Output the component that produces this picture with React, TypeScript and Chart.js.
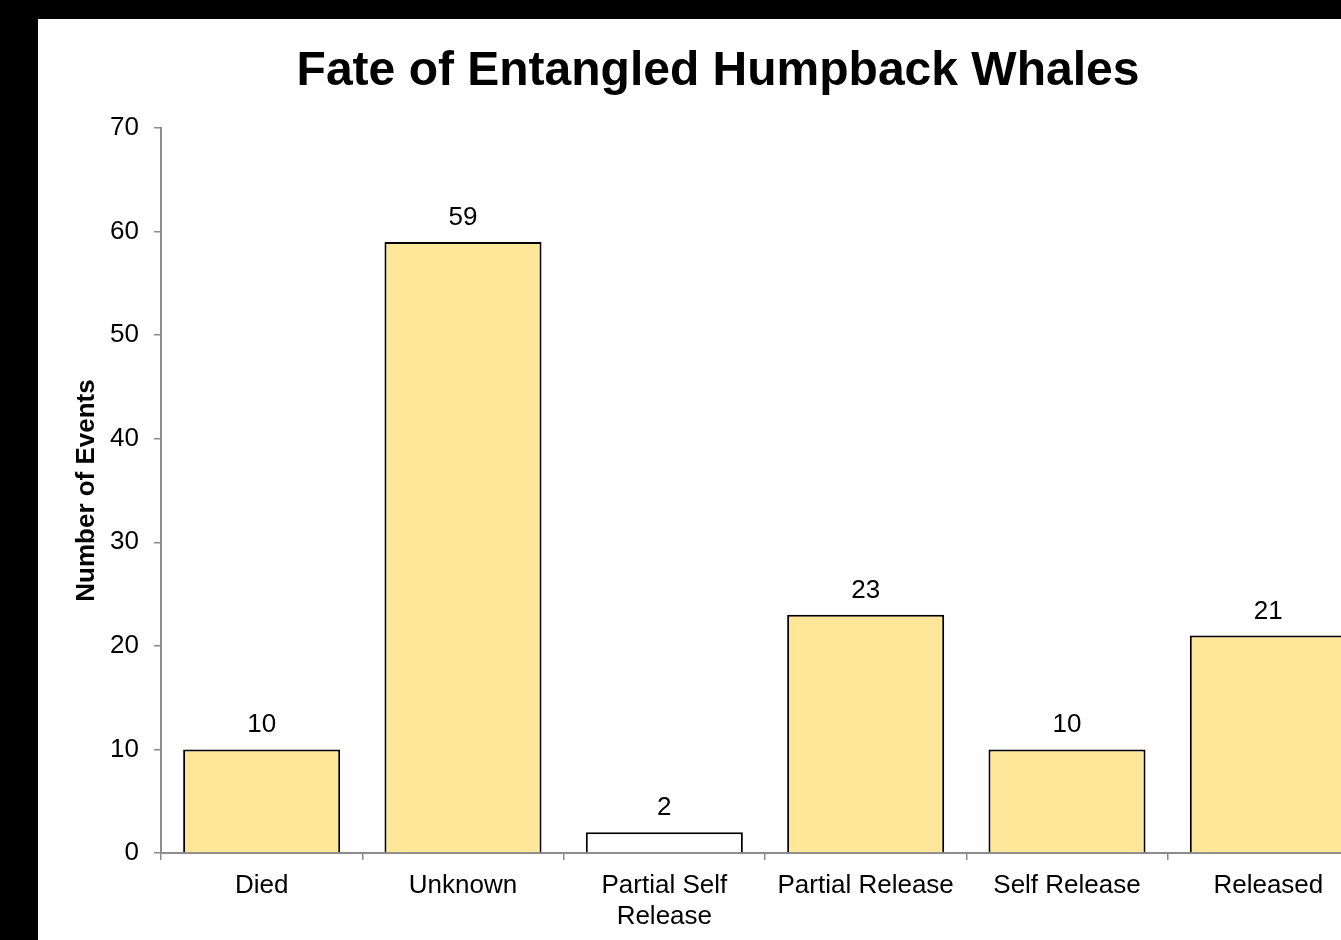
import React, { useEffect, useRef } from "react";
import { Chart, registerables } from "chart.js";

Chart.register(...registerables);

// Outcome categories and the number of recorded events for each
const CATEGORIES: (string | string[])[] = [
  "Died",
  "Unknown",
  ["Partial Self", "Release"],
  "Partial Release",
  "Self Release",
  "Released",
];
const EVENT_COUNTS: number[] = [10, 59, 2, 23, 10, 21];
const BAR_FILLS: string[] = ["#FFE699", "#FFE699", "#FFFFFF", "#FFE699", "#FFE699", "#FFE699"];

const CHART_TITLE = "Fate of Entangled Humpback Whales";
const Y_TITLE = "Number of Events";
const Y_MIN = 0;
const Y_MAX = 70;
const Y_STEP = 10;

const FONT_FAMILY = '"Liberation Sans", Arial, sans-serif';
const AXIS_GREY = "#8c8c8c";

const titlePlugin = {
  id: "centeredTitle",
  afterDraw(chart: Chart) {
    const { ctx } = chart;
    ctx.save();
    ctx.font = `bold 48px ${FONT_FAMILY}`;
    ctx.fillStyle = "#000";
    ctx.textAlign = "center";
    ctx.textBaseline = "alphabetic";
    ctx.fillText(CHART_TITLE, chart.width / 2, 66);
    ctx.restore();
  },
};

const valueLabelPlugin = {
  id: "valueLabels",
  afterDatasetsDraw(chart: Chart) {
    const { ctx } = chart;
    const meta = chart.getDatasetMeta(0);
    ctx.save();
    ctx.font = `26px ${FONT_FAMILY}`;
    ctx.fillStyle = "#000";
    ctx.textAlign = "center";
    ctx.textBaseline = "alphabetic";
    meta.data.forEach((bar: any, i: number) => {
      ctx.fillText(String(EVENT_COUNTS[i]), bar.x, bar.y - 17);
    });
    ctx.restore();
  },
};

export default function App() {
  const canvasRef = useRef<HTMLCanvasElement | null>(null);

  useEffect(() => {
    const canvas = canvasRef.current;
    if (!canvas) return;
    const chart = new Chart(canvas, {
      type: "bar",
      data: {
        labels: CATEGORIES,
        datasets: [
          {
            data: EVENT_COUNTS,
            backgroundColor: BAR_FILLS,
            borderColor: "#000000",
            borderWidth: 2,
            categoryPercentage: 1,
            barPercentage: 0.78,
          },
        ],
      },
      options: {
        responsive: false,
        animation: false,
        devicePixelRatio: 1,
        layout: { padding: { top: 109, left: 0, right: 29, bottom: 0 } },
        plugins: {
          legend: { display: false },
          title: { display: false },
          tooltip: { enabled: false },
        },
        scales: {
          x: {
            afterFit: (scale: any) => {
              scale.height = 87;
            },
            grid: {
              drawOnChartArea: false,
              drawTicks: true,
              tickLength: 7,
              color: AXIS_GREY,
              lineWidth: 1.5,
            },
            border: { display: true, color: AXIS_GREY, width: 2 },
            ticks: {
              color: "#000",
              padding: 10,
              maxRotation: 0,
              autoSkip: false,
              font: { family: FONT_FAMILY, size: 26, lineHeight: 1.2 },
            },
          },
          y: {
            min: Y_MIN,
            max: Y_MAX,
            afterFit: (scale: any) => {
              scale.width = 123;
            },
            grid: {
              drawOnChartArea: false,
              drawTicks: true,
              tickLength: 7,
              color: AXIS_GREY,
              lineWidth: 1.5,
            },
            border: { display: true, color: AXIS_GREY, width: 2 },
            ticks: {
              stepSize: Y_STEP,
              color: "#000",
              padding: 15,
              font: { family: FONT_FAMILY, size: 26 },
            },
            title: {
              display: true,
              text: Y_TITLE,
              color: "#000",
              padding: { top: 33, bottom: 0 },
              font: { family: FONT_FAMILY, size: 26, weight: "bold", lineHeight: 1.2 },
            },
          },
        },
      },
      plugins: [titlePlugin, valueLabelPlugin],
    });
    return () => chart.destroy();
  }, []);

  return (
    <div
      style={{
        position: "fixed",
        left: 0,
        top: 0,
        width: 1341,
        height: 940,
        background: "#000",
        overflow: "hidden",
      }}
    >
      <canvas
        ref={canvasRef}
        width={1360}
        height={921}
        style={{
          position: "absolute",
          left: 38,
          top: 19,
          width: 1360,
          height: 921,
          background: "#fff",
        }}
      />
    </div>
  );
}
